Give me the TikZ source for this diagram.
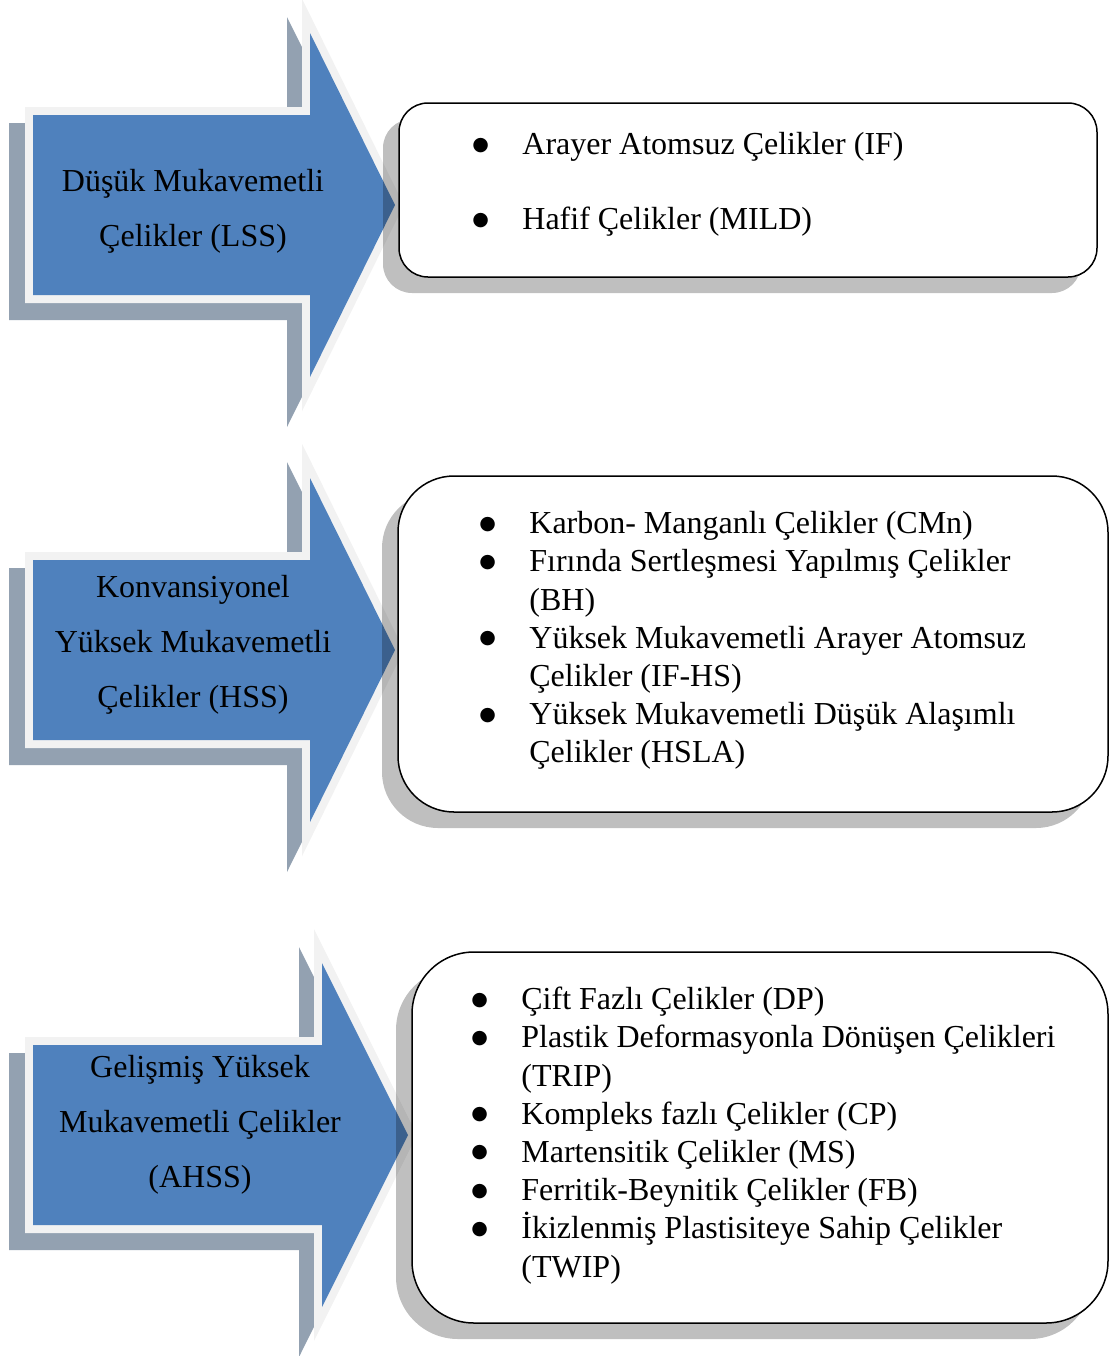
\documentclass[tikz,border=0pt]{standalone}
\usepackage{fontspec}
\setmainfont{Liberation Serif}
\newfontfamily\dotfont{DejaVu Sans}
\usetikzlibrary{shadows}
\definecolor{arrowblue}{HTML}{4F81BD}
\definecolor{arrowedge}{HTML}{F2F2F2}
\definecolor{arrowshade}{HTML}{93A1B1}
\tikzset{
  arrowshadow/.style={fill=arrowshade},
  arrowbody/.style={
    fill=arrowblue,
    preaction={draw=arrowedge, line width=8pt, line join=miter}
  },
  arrowtext/.style={align=center, inner sep=0pt, font=\fontsize{16}{27.5}\selectfont},
  listbox/.style={
    draw=black,
    fill=white,
    line width=0.75pt,
    inner sep=0pt,
    drop shadow={shadow xshift=-8pt, shadow yshift=-8pt, fill=black, opacity=0.25}
  },
  itemtext/.style={align=left, inner sep=0pt, anchor=west, font=\fontsize{16}{19.1}\selectfont}
}
% one arrow: head base x, tip x, centre y
\newcommand{\classarrow}[3]{%
  \fill[arrowshadow] (9,{#3-82}) -- ({#1-23},{#3-82}) -- ({#1-23},{#3-188})
    -- ({#1+79},{#3+17}) -- ({#1-23},{#3+222}) -- ({#1-23},{#3+115})
    -- (9,{#3+115}) -- cycle;
  \path[arrowbody] (33,{#3-90}) -- (#1,{#3-90}) -- (#1,{#3-172}) -- (#2,#3)
    -- (#1,{#3+172}) -- (#1,{#3+90}) -- (33,{#3+90}) -- cycle;
}
\newcommand{\itm}[1]{\makebox[25pt][l]{\raisebox{2.3pt}{\dotfont\fontsize{9.5}{9.5}\selectfont ●}}#1}
\newcommand{\itc}[1]{\hspace*{25pt}#1}

\begin{document}
\begin{tikzpicture}[x=0.5pt, y=-0.5pt]
  \useasboundingbox (0,0) rectangle (1112,1356);

  \classarrow{310}{395}{205}
  \classarrow{310}{395}{650}
  \classarrow{322}{408}{1135}

  \node[arrowtext] (lss) at (193,211.5) {Düşük Mukavemetli\\Çelikler (LSS)};
  \node[arrowtext] (hss) at (193,644.5) {Konvansiyonel\\Yüksek Mukavemetli\\Çelikler (HSS)};
  \node[arrowtext] (ahss) at (200,1125) {Gelişmiş Yüksek\\Mukavemetli Çelikler\\(AHSS)};

  \node[listbox, minimum width=349pt, minimum height=87pt, rounded corners=14.5pt] (lssbox) at (748,190) {};
  \node[listbox, minimum width=355pt, minimum height=168pt, rounded corners=28pt] (hssbox) at (753,644) {};
  \node[listbox, minimum width=348pt, minimum height=185.5pt, rounded corners=31pt] (ahssbox) at (760,1137.5) {};

  \node[itemtext] (lsslist) at (472,184.5) {
    \itm{Arayer Atomsuz Çelikler (IF)}\\[18.5pt]
    \itm{Hafif Çelikler (MILD)}
  };
  \node[itemtext] (hsslist) at (479,640.5) {
    \itm{Karbon- Manganlı Çelikler (CMn)}\\
    \itm{Fırında Sertleşmesi Yapılmış Çelikler}\\
    \itc{(BH)}\\
    \itm{Yüksek Mukavemetli Arayer Atomsuz}\\
    \itc{Çelikler (IF-HS)}\\
    \itm{Yüksek Mukavemetli Düşük Alaşımlı}\\
    \itc{Çelikler (HSLA)}
  };
  \node[itemtext] (ahsslist) at (471,1135.5) {
    \itm{Çift Fazlı Çelikler (DP)}\\
    \itm{Plastik Deformasyonla Dönüşen Çelikleri}\\
    \itc{(TRIP)}\\
    \itm{Kompleks fazlı Çelikler (CP)}\\
    \itm{Martensitik Çelikler (MS)}\\
    \itm{Ferritik-Beynitik Çelikler (FB)}\\
    \itm{İkizlenmiş Plastisiteye Sahip Çelikler}\\
    \itc{(TWIP)}
  };
\end{tikzpicture}
\end{document}
